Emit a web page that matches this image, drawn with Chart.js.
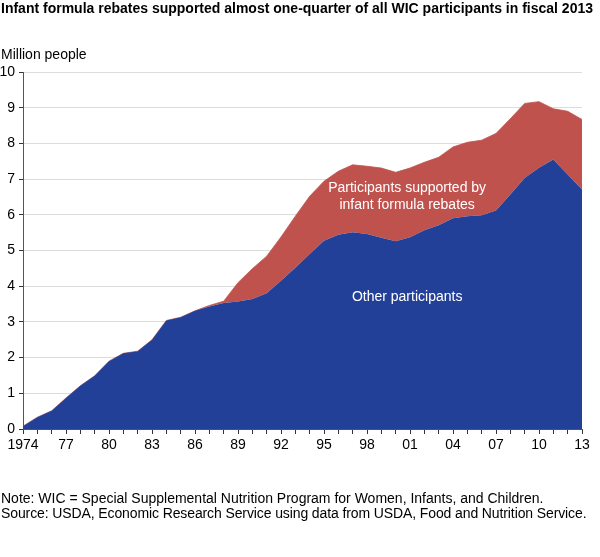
<!DOCTYPE html>
<html>
<head>
<meta charset="utf-8">
<script src="https://cdn.jsdelivr.net/npm/chart.js@4.4.0/dist/chart.umd.min.js"></script>
<style>
  body { margin: 0; background: #fff; font-family: "Liberation Sans", Arial, sans-serif; }
  #wrap { position: relative; width: 600px; height: 557px; overflow: hidden; }
  #myChart { position: absolute; left: 0; top: 0; }
  .txt { position: absolute; left: 1px; color: #000; white-space: nowrap; line-height: 1; font-size: 14px; }
</style>
</head>
<body>
<div id="wrap">
  <canvas id="myChart" width="600" height="557"></canvas>
  <div class="txt" style="top:1px;font-weight:bold">Infant formula rebates supported almost one-quarter of all WIC participants in fiscal 2013</div>
  <div class="txt" style="top:47px">Million people</div>
  <div class="txt" style="top:491px">Note: WIC = Special Supplemental Nutrition Program for Women, Infants, and Children.</div>
  <div class="txt" style="top:506px;letter-spacing:-0.11px">Source: USDA, Economic Research Service using data from USDA, Food and Nutrition Service.</div>
</div>
<script>
/*****************data*******************/
let years = [];
for (let y = 1974; y <= 2013; y++) years.push(String(y));

let tickLabels = ['1974', '77', '80', '83', '86', '89', '92', '95', '98', '01', '04', '07', '10', '13'];

// million people, not supported by infant formula rebates
let otherParticipants = [
  0.08, 0.33, 0.51, 0.87, 1.21, 1.49, 1.90, 2.12, 2.18, 2.50,
  3.04, 3.13, 3.31, 3.43, 3.53, 3.57, 3.64, 3.80, 4.15, 4.52,
  4.90, 5.27, 5.44, 5.51, 5.46, 5.36, 5.26, 5.37, 5.57, 5.71,
  5.90, 5.96, 5.99, 6.12, 6.57, 7.03, 7.32, 7.55, 7.13, 6.71
];

// million people, supported by infant formula rebates
let rebateParticipants = [
  0, 0, 0, 0, 0, 0, 0, 0, 0, 0,
  0, 0, 0, 0.03, 0.05, 0.53, 0.85, 1.04, 1.23, 1.44,
  1.62, 1.67, 1.78, 1.89, 1.90, 1.95, 1.93, 1.94, 1.90, 1.90,
  2.00, 2.07, 2.10, 2.16, 2.12, 2.09, 1.85, 1.42, 1.77, 1.96
];

/*****************in-chart labels*******************/
const areaLabels = {
  id: 'areaLabels',
  afterDatasetsDraw(chart) {
    let ctx = chart.ctx;
    let xs = chart.scales.x, ys = chart.scales.y;
    ctx.save();
    ctx.fillStyle = '#ffffff';
    ctx.font = '14px "Liberation Sans", Arial, sans-serif';
    ctx.textAlign = 'center';
    ctx.textBaseline = 'middle';
    let cx = xs.getPixelForValue(26.8);
    ctx.fillText('Participants supported by', cx, ys.getPixelForValue(6.75));
    ctx.fillText('infant formula rebates', cx, ys.getPixelForValue(6.27));
    ctx.fillText('Other participants', cx, ys.getPixelForValue(3.69));
    ctx.restore();
  }
};

/*****************chart*******************/
let ctx = document.getElementById('myChart').getContext('2d');
let myChart = new Chart(ctx, {
  type: 'line',
  data: {
    labels: years,
    datasets: [{
      label: 'Other participants',
      data: otherParticipants,
      backgroundColor: 'rgb(34, 64, 152)',
      borderColor: 'rgb(34, 64, 152)',
      borderWidth: 0,
      pointRadius: 0,
      fill: 'origin'
    }, {
      label: 'Participants supported by infant formula rebates',
      data: rebateParticipants,
      backgroundColor: 'rgb(192, 82, 78)',
      borderColor: 'rgb(192, 82, 78)',
      borderWidth: 0.8,
      pointRadius: 0,
      fill: '-1'
    }]
  },
  options: {
    responsive: false,
    animation: false,
    layout: { padding: { left: 0, right: 18, top: 72, bottom: 98 } },
    plugins: {
      legend: { display: false },
      tooltip: { enabled: false }
    },
    scales: {
      x: {
        offset: false,
        afterFit: axis => { axis.height = 30; },
        border: { color: '#555', width: 1 },
        grid: { drawOnChartArea: false, drawTicks: true, tickLength: 5, tickColor: '#333' },
        ticks: {
          autoSkip: false,
          maxRotation: 0,
          padding: 3,
          color: '#000',
          font: { family: '"Liberation Sans", Arial, sans-serif', size: 14 },
          callback: (val, i) => (i % 3 === 0 ? tickLabels[i / 3] : '')
        }
      },
      y: {
        stacked: true,
        min: 0,
        max: 10,
        afterFit: axis => { axis.width = 23; },
        border: { color: '#555', width: 1 },
        grid: { color: '#dcdcdc', tickLength: 4, tickColor: '#333' },
        ticks: {
          stepSize: 1,
          padding: 4,
          color: '#000',
          font: { family: '"Liberation Sans", Arial, sans-serif', size: 14 }
        }
      }
    }
  },
  plugins: [areaLabels]
});
</script>
</body>
</html>
